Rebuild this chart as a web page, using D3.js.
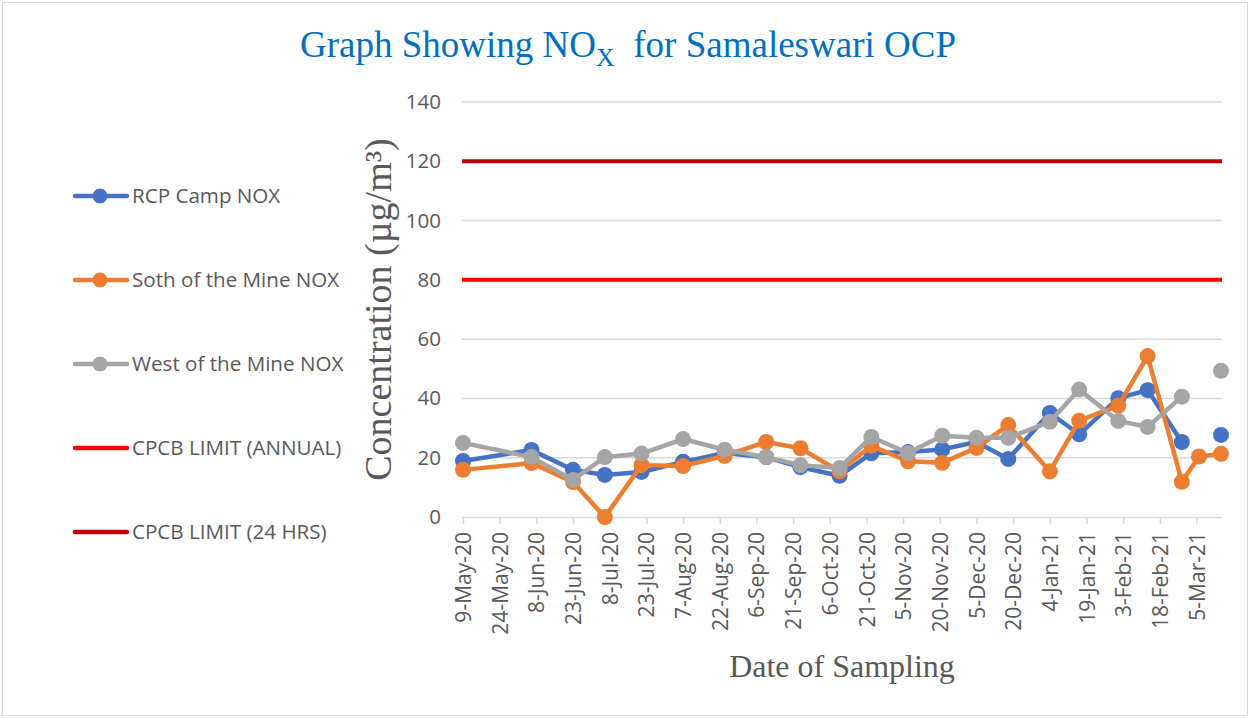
<!DOCTYPE html>
<html>
<head>
<meta charset="utf-8">
<script src="https://cdn.jsdelivr.net/npm/d3@7"></script>
<style>
  body { margin: 0; background: #fff; }
  svg { display: block; }
</style>
</head>
<body>
<script>
// Sampling dates (x values)
const sampleDates = ["9-May-20", "6-Jun-20", "23-Jun-20", "6-Jul-20", "21-Jul-20", "7-Aug-20",
    "24-Aug-20", "10-Sep-20", "24-Sep-20", "10-Oct-20", "23-Oct-20", "7-Nov-20", "21-Nov-20",
    "5-Dec-20", "18-Dec-20", "4-Jan-21", "16-Jan-21", "1-Feb-21", "13-Feb-21", "27-Feb-21",
    "6-Mar-21", "15-Mar-21"];

// Series values (null = no sample)
const rcpCamp = [18.9, 22.6, 15.9, 14.2, 15.2, 18.6, 21.6, 20.2, 16.8, 13.9, 21.5, 21.9, 22.8,
    25.3, 19.6, 35.1, 27.9, 40.1, 42.8, 25.3, null, 27.7];
const southMine = [15.9, 18.2, 11.8, 0, 17.5, 17.2, 20.6, 25.3, 23.2, 15.4, 24.0, 18.8, 18.3,
    23.3, 31.0, 15.4, 32.5, 37.6, 54.3, 11.9, 20.4, 21.3];
const westMine = [25.0, 20.2, 12.5, 20.2, 21.4, 26.3, 22.7, 20.2, 17.5, 16.5, 27.0, 21.6, 27.4,
    26.7, 26.7, 32.1, 43.0, 32.4, 30.4, 40.6, null, 49.3];

// CPCB limits
const limitAnnual = 80;
const limit24h = 120;

// Axis tick labels
const xTickLabels = ["9-May-20", "24-May-20", "8-Jun-20", "23-Jun-20", "8-Jul-20", "23-Jul-20",
    "7-Aug-20", "22-Aug-20", "6-Sep-20", "21-Sep-20", "6-Oct-20", "21-Oct-20", "5-Nov-20",
    "20-Nov-20", "5-Dec-20", "20-Dec-20", "4-Jan-21", "19-Jan-21", "3-Feb-21", "18-Feb-21",
    "5-Mar-21"];
const yTicks = [0, 20, 40, 60, 80, 100, 120, 140];

const width = 1250;
const height = 718;
const plot = { left: 463, right: 1221, top: 102, bottom: 517 };

const parseDate = d3.utcParse("%d-%b-%y");
const dates = sampleDates.map(parseDate);

const svg = d3.select("body").append("svg")
    .attr("width", width)
    .attr("height", height);

// Outer chart border
svg.append("rect")
    .attr("x", 2.5).attr("y", 2.5)
    .attr("width", width - 5).attr("height", height - 5)
    .style("fill", "#fff")
    .style("stroke", "#d9d9d9")
    .style("stroke-width", "1px");

const x = d3.scaleUtc()
    .domain([dates[0], dates[dates.length - 1]])
    .range([plot.left, plot.right]);

const y = d3.scaleLinear()
    .domain([0, 140])
    .range([plot.bottom, plot.top]);

// Horizontal gridlines
svg.append("g")
    .selectAll("line")
    .data(yTicks.filter(d => d > 0))
    .enter().append("line")
    .attr("x1", plot.left - 1)
    .attr("x2", plot.right + 1)
    .attr("y1", d => y(d))
    .attr("y2", d => y(d))
    .style("stroke", "#d9d9d9")
    .style("stroke-width", "1.5px");

// Y axis labels
const yAxis = svg.append("g")
    .attr("transform", `translate(${plot.left - 22},0)`)
    .call(d3.axisLeft(y).tickValues(yTicks).tickSize(0).tickPadding(0));
yAxis.select(".domain").remove();
yAxis.selectAll("text")
    .style("font-family", "'Open Sans', sans-serif")
    .style("font-size", "20.5px")
    .style("fill", "#595959");

// X axis (date axis, 15-day ticks)
const xAxis = svg.append("g")
    .attr("transform", `translate(0,${plot.bottom})`)
    .call(d3.axisBottom(x)
        .tickValues(xTickLabels.map(parseDate))
        .tickFormat(d3.utcFormat("%-d-%b-%y"))
        .tickSizeOuter(0)
        .tickSize(7));
xAxis.select(".domain")
    .attr("d", `M${plot.left - 1},0.5H${plot.right + 1}`)
    .style("stroke", "#d9d9d9")
    .style("stroke-width", "1.5px");
xAxis.selectAll(".tick line")
    .style("stroke", "#d9d9d9")
    .style("stroke-width", "1.5px");
xAxis.selectAll(".tick text")
    .attr("transform", "rotate(-90)")
    .attr("x", -15)
    .attr("y", 0)
    .attr("dy", "0.36em")
    .style("text-anchor", "end")
    .style("font-family", "'Open Sans', sans-serif")
    .style("font-size", "21px")
    .style("fill", "#595959");

// Limit lines
const limits = [
    { value: limitAnnual, color: "#ff0000" },
    { value: limit24h, color: "#c00000" }
];
svg.append("g")
    .selectAll("line")
    .data(limits)
    .enter().append("line")
    .attr("x1", plot.left - 1)
    .attr("x2", plot.right + 1)
    .attr("y1", d => y(d.value))
    .attr("y2", d => y(d.value))
    .style("stroke", d => d.color)
    .style("stroke-width", "4px");

// Series
const series = [
    { name: "RCP Camp NOX", values: rcpCamp, color: "#4472c4" },
    { name: "Soth of the Mine NOX", values: southMine, color: "#ed7d31" },
    { name: "West of the Mine NOX", values: westMine, color: "#a5a5a5" }
];

const line = d3.line()
    .defined(d => d.v != null)
    .x(d => x(d.date))
    .y(d => y(d.v));

series.forEach(s => {
    const pts = dates.map((date, i) => ({ date, v: s.values[i] }));
    const g = svg.append("g");
    g.append("path")
        .datum(pts)
        .attr("d", line)
        .style("fill", "none")
        .style("stroke", s.color)
        .style("stroke-width", "4.5px")
        .style("stroke-linejoin", "round");
    g.selectAll("circle")
        .data(pts.filter(d => d.v != null))
        .enter().append("circle")
        .attr("cx", d => x(d.date))
        .attr("cy", d => y(d.v))
        .attr("r", 8)
        .style("fill", s.color);
});

// Legend
const legendItems = [
    ...series.map(s => ({ name: s.name, color: s.color, marker: true })),
    { name: "CPCB LIMIT (ANNUAL)", color: "#ff0000", marker: false },
    { name: "CPCB LIMIT (24 HRS)", color: "#c00000", marker: false }
];
const legend = svg.append("g")
    .selectAll("g")
    .data(legendItems)
    .enter().append("g")
    .attr("transform", (d, i) => `translate(0,${196 + i * 84})`);
legend.append("line")
    .attr("x1", 75).attr("x2", 127)
    .style("stroke", d => d.color)
    .style("stroke-width", "4.5px")
    .style("stroke-linecap", "round");
legend.filter(d => d.marker)
    .append("circle")
    .attr("cx", 100)
    .attr("r", 7.5)
    .style("fill", d => d.color);
legend.append("text")
    .attr("x", 132)
    .attr("dy", "0.36em")
    .text(d => d.name)
    .style("font-family", "'Open Sans', sans-serif")
    .style("font-size", "20.6px")
    .style("fill", "#595959");

// Title
const title = svg.append("text")
    .attr("x", 628)
    .attr("y", 57)
    .style("text-anchor", "middle")
    .style("font-family", "'Liberation Serif', 'Times New Roman', serif")
    .style("font-size", "37px")
    .style("fill", "#0070c0");
title.append("tspan").text("Graph Showing NO");
title.append("tspan").attr("dy", 9).style("font-size", "26px").text("X");
title.append("tspan").attr("dy", -9).text("\u00a0\u00a0for Samaleswari OCP");

// Axis titles
svg.append("text")
    .attr("transform", `translate(391,${(plot.top + plot.bottom) / 2}) rotate(-90)`)
    .style("text-anchor", "middle")
    .style("font-family", "'Liberation Serif', 'Times New Roman', serif")
    .style("font-size", "38px")
    .style("fill", "#595959")
    .text("Concentration (µg/m³)");

svg.append("text")
    .attr("x", (plot.left + plot.right) / 2)
    .attr("y", 677)
    .style("text-anchor", "middle")
    .style("font-family", "'Liberation Serif', 'Times New Roman', serif")
    .style("font-size", "32px")
    .style("fill", "#595959")
    .text("Date of Sampling");
</script>
</body>
</html>
